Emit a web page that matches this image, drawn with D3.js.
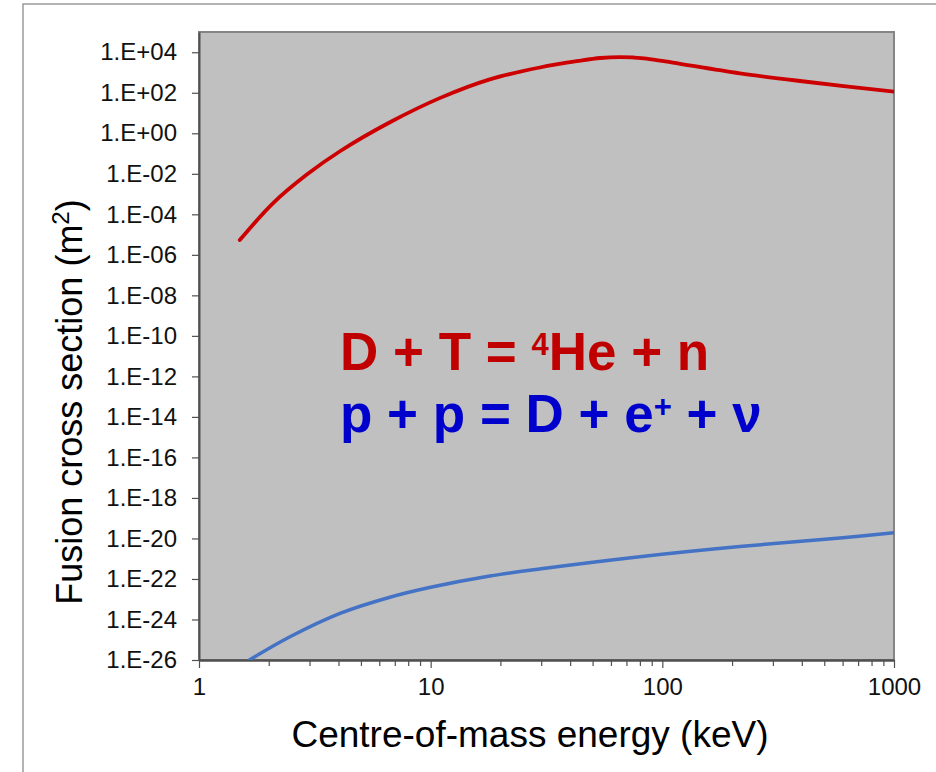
<!DOCTYPE html>
<html>
<head>
<meta charset="utf-8">
<script src="https://cdn.jsdelivr.net/npm/d3@7"></script>
<style>
  body { margin: 0; background: #fff; }
  text { font-family: "Liberation Sans", Arial, sans-serif; }
</style>
</head>
<body>
<div id="chart"></div>
<script>
// D-T fusion cross section
var dtEnergy = [1.5, 2.09, 2.93, 4.06, 6.67, 11.0, 18.0, 29.6, 44, 54, 65.6, 75, 85.5, 111, 216, 419, 1000],
    dtSigma  = [5.4e-6, 3.6e-4, 9.4e-3, 0.13, 3.5, 56, 460, 1.77e3, 3.8e3, 5.2e3, 5.8e3, 5.5e3, 4.9e3, 3.1e3, 9.1e2, 3.5e2, 1.13e2];

// p-p fusion cross section
var ppEnergy = [1.65, 2.47, 4.06, 6.67, 10, 18, 30, 80, 216, 584, 1000],
    ppSigma  = [1.0e-26, 1.4e-25, 2.0e-24, 1.26e-23, 3.9e-23, 1.4e-22, 3.2e-22, 1.26e-21, 4.0e-21, 1.05e-20, 1.9e-20];

var xMajorTicks = [1, 10, 100, 1000],
    yTickValues = [1e-26, 1e-24, 1e-22, 1e-20, 1e-18, 1e-16, 1e-14, 1e-12,
                   1e-10, 1e-8, 1e-6, 1e-4, 1e-2, 1e0, 1e2, 1e4];

var width = 936, height = 772;
var plotLeft = 199, plotRight = 894, plotTop = 32, plotBottom = 660;

var svg = d3.select("#chart").append("svg")
  .attr("width", width)
  .attr("height", height);

// outer frame
svg.append("path")
  .attr("d", "M23," + height + "V4H" + width)
  .attr("fill", "none")
  .attr("stroke", "#9a9a9a")
  .attr("stroke-width", 1.5);

////////////////////////////////////////////////////////////
//////////////////////// Scales ////////////////////////////
////////////////////////////////////////////////////////////

var x = d3.scaleLog().domain([1, 1000]).range([plotLeft, plotRight]);
var y = d3.scaleLog().domain([1e-26, 1e5]).range([plotBottom, plotTop]);

// plot area
svg.append("rect")
  .attr("x", plotLeft).attr("y", plotTop)
  .attr("width", plotRight - plotLeft).attr("height", plotBottom - plotTop)
  .attr("fill", "#c0c0c0")
  .attr("stroke", "#858585")
  .attr("stroke-width", 2);

svg.append("defs").append("clipPath").attr("id", "clip")
  .append("rect")
  .attr("x", plotLeft).attr("y", plotTop)
  .attr("width", plotRight - plotLeft).attr("height", plotBottom - plotTop);

////////////////////////////////////////////////////////////
///////////////////////// Axes /////////////////////////////
////////////////////////////////////////////////////////////

function expLabel(d) {
  var e = Math.round(Math.log10(d));
  var s = e < 0 ? "-" : "+";
  var a = Math.abs(e);
  return "1.E" + s + (a < 10 ? "0" : "") + a;
}

svg.append("g")
  .attr("transform", "translate(" + plotLeft + ",0)")
  .call(d3.axisLeft(y).tickValues(yTickValues).tickFormat(expLabel)
        .tickSize(7).tickSizeOuter(0).tickPadding(15));

var xMinor = x.ticks().filter(function(d) { return xMajorTicks.indexOf(d) < 0; });

svg.append("g")
  .attr("transform", "translate(0," + plotBottom + ")")
  .call(d3.axisBottom(x).tickValues(xMinor).tickFormat("").tickSize(6).tickSizeOuter(0));

svg.append("g")
  .attr("transform", "translate(0," + plotBottom + ")")
  .call(d3.axisBottom(x).tickValues(xMajorTicks).tickFormat(d3.format("d"))
        .tickSize(8).tickSizeOuter(0).tickPadding(10));

svg.selectAll(".domain").attr("stroke", "#505050").attr("stroke-width", 2);
svg.selectAll(".tick line").attr("stroke", "#505050").attr("stroke-width", 1.2);
svg.selectAll(".tick text")
  .style("font-family", "'Liberation Sans', Arial, sans-serif")
  .style("font-size", "24px")
  .attr("fill", "#111");

// axis titles
svg.append("text")
  .attr("x", 530).attr("y", 747)
  .attr("text-anchor", "middle")
  .style("font-size", "37px")
  .attr("fill", "#000")
  .text("Centre-of-mass energy (keV)");

var yt = svg.append("text")
  .attr("transform", "translate(82,402) rotate(-90)")
  .attr("text-anchor", "middle")
  .style("font-size", "36px")
  .attr("fill", "#000");
yt.append("tspan").text("Fusion cross section (m");
yt.append("tspan").attr("dy", -13).style("font-size", "24px").text("2");
yt.append("tspan").attr("dy", 13).text(")");

////////////////////////////////////////////////////////////
///////////////////////// Lines ////////////////////////////
////////////////////////////////////////////////////////////

var line = d3.line()
  .x(function(d) { return x(d[0]); })
  .y(function(d) { return y(d[1]); })
  .curve(d3.curveCatmullRom.alpha(0.5));

var lines = svg.append("g").attr("clip-path", "url(#clip)");

lines.append("path")
  .datum(d3.zip(dtEnergy, dtSigma))
  .attr("d", line)
  .attr("fill", "none")
  .attr("stroke", "#cc0000")
  .attr("stroke-width", 3.8)
  .attr("stroke-linecap", "round");

lines.append("path")
  .datum(d3.zip(ppEnergy, ppSigma))
  .attr("d", line)
  .attr("fill", "none")
  .attr("stroke", "#4472c4")
  .attr("stroke-width", 3.5)
  .attr("stroke-linecap", "round");

////////////////////////////////////////////////////////////
//////////////////////// Labels ////////////////////////////
////////////////////////////////////////////////////////////

var t1 = svg.append("text")
  .attr("x", 340).attr("y", 370)
  .style("font-size", "53px").style("font-weight", "bold")
  .attr("fill", "#c00000");
t1.append("tspan").text("D + T = ");
t1.append("tspan").attr("dy", -15).style("font-size", "31px").text("4");
t1.append("tspan").attr("dy", 15).text("He + n");

var t2 = svg.append("text")
  .attr("x", 340).attr("y", 432)
  .style("font-size", "53px").style("font-weight", "bold")
  .attr("fill", "#0000cc");
t2.append("tspan").text("p + p = D + e");
t2.append("tspan").attr("dy", -15).style("font-size", "31px").text("+");
t2.append("tspan").attr("dy", 15).text(" + ν");
</script>
</body>
</html>
